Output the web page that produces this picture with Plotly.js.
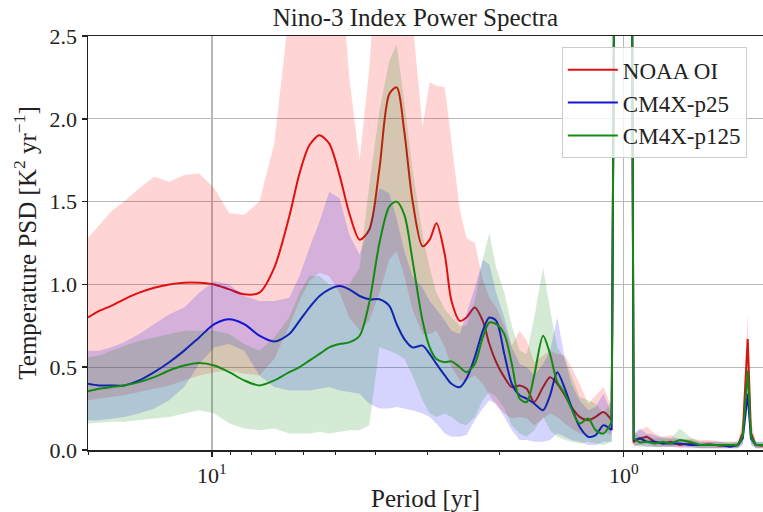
<!DOCTYPE html>
<html>
<head>
<meta charset="utf-8">
<script src="https://cdn.plot.ly/plotly-3.0.1.min.js"></script>
<style>html,body{margin:0;padding:0;background:#fff;}#chart{width:763px;height:512px;}</style>
</head>
<body>
<div id="chart"></div>
<script>
// Periods [yr] for the low-frequency part (left of the annual cycle)
const periods = [20.0,18.79,17.57,16.34,15.02,13.81,12.70,11.68,10.74,9.87,9.08,8.35,7.67,7.06,6.49,6.13,5.80,5.48,5.19,4.90,4.64,4.38,4.15,3.92,3.71,3.56,3.41,3.26,3.08,2.96,2.85,2.72,2.62,2.50,2.41,2.30,2.20,2.12,2.04,1.95,1.87,1.79,1.72,1.65,1.57,1.51,1.45,1.39,1.34,1.28,1.22,1.17,1.12,1.07];
// Off-scale annual-cycle peak (periods and values, shared by all series)
const annualPeak = [1.054, 1.044, 0.958, 0.952];
const annualPeakValues = [3, 30, 30, 3];
// Periods [yr] for the high-frequency part (right of the annual cycle)
const periodsRight = [0.946,0.914,0.879,0.841,0.804,0.769,0.731,0.691,0.653,0.618,0.584,0.552,0.528,0.514,0.5,0.491,0.478,0.459];

// NOAA OI
const noaaMean = [0.80,0.84,0.87,0.91,0.95,0.98,1.00,1.01,1.01,1.00,0.97,0.94,0.95,1.10,1.41,1.67,1.84,1.90,1.85,1.66,1.43,1.27,1.33,1.70,2.15,2.19,1.92,1.51,1.23,1.27,1.37,1.18,0.90,0.78,0.80,0.86,0.78,0.64,0.53,0.44,0.38,0.39,0.37,0.29,0.38,0.44,0.40,0.33,0.26,0.20,0.18,0.20,0.23,0.18];
const noaaLow  = [0.30,0.31,0.32,0.33,0.35,0.37,0.39,0.42,0.45,0.47,0.48,0.46,0.45,0.55,0.75,0.90,1.02,1.07,1.05,0.95,0.80,0.72,0.78,0.95,1.15,1.20,1.05,0.85,0.70,0.70,0.72,0.62,0.50,0.42,0.42,0.45,0.40,0.33,0.27,0.22,0.19,0.20,0.19,0.15,0.19,0.22,0.20,0.16,0.13,0.10,0.09,0.10,0.11,0.09];
const noaaHigh = [1.28,1.36,1.44,1.50,1.58,1.65,1.62,1.66,1.67,1.58,1.43,1.42,1.50,1.85,2.60,3.20,3.20,3.20,3.20,3.00,2.25,1.75,2.30,3.20,3.20,3.20,3.20,2.60,1.95,2.22,2.20,2.19,1.87,1.45,1.28,1.25,1.03,0.92,0.86,0.75,0.63,0.72,0.66,0.53,0.57,0.60,0.58,0.57,0.50,0.40,0.28,0.33,0.38,0.26];
const noaaMeanRight = [0.05,0.07,0.08,0.05,0.04,0.05,0.03,0.04,0.03,0.035,0.025,0.03,0.03,0.10,0.67,0.10,0.03,0.025];
const noaaLowRight  = [0.02,0.03,0.04,0.02,0.02,0.02,0.01,0.02,0.01,0.01,0.01,0.01,0.01,0.05,0.52,0.05,0.01,0.01];
const noaaHighRight = [0.09,0.12,0.14,0.10,0.08,0.09,0.06,0.07,0.06,0.06,0.05,0.05,0.05,0.18,0.82,0.18,0.05,0.04];

// CM4X-p25
const p25Mean = [0.40,0.39,0.39,0.39,0.42,0.47,0.53,0.60,0.68,0.76,0.79,0.76,0.69,0.655,0.70,0.78,0.86,0.93,0.97,0.99,0.97,0.93,0.91,0.91,0.87,0.76,0.67,0.62,0.63,0.58,0.52,0.45,0.40,0.38,0.43,0.56,0.72,0.80,0.78,0.58,0.40,0.33,0.31,0.28,0.24,0.33,0.47,0.37,0.26,0.14,0.08,0.09,0.15,0.12];
const p25Low  = [0.18,0.18,0.19,0.20,0.22,0.25,0.30,0.38,0.52,0.62,0.64,0.60,0.45,0.38,0.36,0.36,0.36,0.37,0.38,0.36,0.35,0.34,0.28,0.25,0.25,0.26,0.25,0.24,0.22,0.20,0.16,0.10,0.08,0.08,0.09,0.18,0.25,0.30,0.28,0.20,0.12,0.06,0.06,0.05,0.05,0.06,0.10,0.08,0.06,0.05,0.03,0.03,0.05,0.05];
const p25High = [0.60,0.60,0.62,0.65,0.70,0.76,0.82,0.86,0.95,1.02,1.00,0.93,0.90,0.90,0.92,1.05,1.22,1.38,1.56,1.52,1.30,1.18,1.35,1.58,1.55,1.40,1.20,1.05,0.98,0.90,0.85,0.78,0.72,0.70,0.82,0.98,1.15,1.12,0.95,0.80,0.62,0.52,0.50,0.45,0.52,0.60,0.80,0.55,0.40,0.30,0.24,0.26,0.34,0.22];
const p25MeanRight = [0.06,0.07,0.05,0.05,0.04,0.04,0.04,0.03,0.03,0.03,0.03,0.02,0.03,0.07,0.34,0.07,0.03,0.03];
const p25LowRight  = [0.03,0.03,0.02,0.02,0.02,0.02,0.02,0.01,0.01,0.01,0.01,0.01,0.01,0.03,0.25,0.03,0.01,0.01];
const p25HighRight = [0.10,0.13,0.10,0.09,0.07,0.07,0.07,0.06,0.05,0.05,0.05,0.04,0.05,0.12,0.45,0.12,0.05,0.05];

// CM4X-p125
const p125Mean = [0.355,0.37,0.38,0.39,0.41,0.44,0.48,0.51,0.525,0.51,0.47,0.42,0.39,0.42,0.47,0.50,0.54,0.58,0.62,0.64,0.65,0.69,0.89,1.25,1.47,1.50,1.42,1.15,0.78,0.62,0.55,0.53,0.535,0.50,0.47,0.52,0.68,0.77,0.76,0.70,0.52,0.31,0.29,0.45,0.69,0.58,0.41,0.34,0.25,0.16,0.19,0.12,0.10,0.17];
const p125Low  = [0.16,0.165,0.17,0.17,0.18,0.19,0.20,0.22,0.24,0.22,0.16,0.13,0.12,0.13,0.10,0.10,0.10,0.11,0.10,0.11,0.12,0.12,0.15,0.62,0.60,0.58,0.55,0.45,0.30,0.22,0.20,0.22,0.20,0.16,0.15,0.20,0.30,0.35,0.32,0.25,0.15,0.10,0.08,0.12,0.20,0.12,0.08,0.06,0.05,0.04,0.05,0.04,0.03,0.05];
const p125High = [0.56,0.57,0.60,0.63,0.66,0.68,0.70,0.72,0.72,0.72,0.70,0.64,0.60,0.68,0.80,0.95,1.05,1.05,1.00,0.98,1.00,1.10,1.60,2.05,2.35,2.45,2.10,1.70,1.30,1.10,0.95,0.85,0.80,0.75,0.75,0.90,1.15,1.31,1.10,0.95,0.75,0.60,0.58,0.80,1.10,0.85,0.62,0.55,0.45,0.32,0.30,0.28,0.22,0.30];
const p125MeanRight = [0.07,0.045,0.05,0.04,0.05,0.04,0.06,0.05,0.03,0.03,0.03,0.03,0.03,0.08,0.48,0.08,0.03,0.03];
const p125LowRight  = [0.03,0.02,0.02,0.02,0.02,0.02,0.03,0.02,0.01,0.01,0.01,0.01,0.01,0.04,0.36,0.04,0.01,0.01];
const p125HighRight = [0.11,0.08,0.09,0.07,0.08,0.07,0.13,0.08,0.05,0.05,0.05,0.05,0.05,0.14,0.62,0.14,0.05,0.05];

const seriesNames = ['NOAA OI', 'CM4X-p25', 'CM4X-p125'];
const lineColors = ['#e01010', '#1414d2', '#138a13'];
const fillColors = ['rgba(255,0,0,0.17)', 'rgba(0,0,255,0.17)', 'rgba(0,128,0,0.17)'];

const yTicks = [0, 0.5, 1.0, 1.5, 2.0, 2.5];
const xMajorTicks = [10, 1];
const xMajorLabels = ['10<sup>1</sup>', '10<sup>0</sup>'];
const xMinorTicks = [20, 9, 8, 7, 6, 5, 4, 3, 2, 0.9, 0.8, 0.7, 0.6, 0.5];

const allData = [
  [noaaMean, noaaLow, noaaHigh, noaaMeanRight, noaaLowRight, noaaHighRight],
  [p25Mean, p25Low, p25High, p25MeanRight, p25LowRight, p25HighRight],
  [p125Mean, p125Low, p125High, p125MeanRight, p125LowRight, p125HighRight]
];

const traces = [];
const xAll = periods.concat(annualPeak, periodsRight);
allData.forEach(function (d, i) {
  const upper = d[2].concat(annualPeakValues, d[5]);
  const lower = d[1].concat(annualPeakValues, d[4]);
  traces.push({
    x: xAll.concat(xAll.slice().reverse()),
    y: upper.concat(lower.slice().reverse()),
    type: 'scatter', mode: 'lines', fill: 'toself',
    fillcolor: fillColors[i], line: {width: 0, color: fillColors[i]},
    hoverinfo: 'skip', showlegend: false
  });
  traces.push({
    x: periods, y: d[0], type: 'scatter', mode: 'lines', name: seriesNames[i],
    line: {color: lineColors[i], width: 2, shape: 'spline', smoothing: 0.8}
  });
  const lastP = periods[periods.length - 1];
  const lastV = d[0][d[0].length - 1];
  traces.push({
    x: [lastP].concat(annualPeak, periodsRight),
    y: [lastV].concat(annualPeakValues, d[3]),
    type: 'scatter', mode: 'lines', name: seriesNames[i],
    line: {color: lineColors[i], width: 2},
    showlegend: false
  });
});

const fontFam = '"Liberation Serif", "Times New Roman", serif';
const layout = {
  width: 763, height: 512,
  margin: {l: 88, r: 0, t: 36, b: 62},
  paper_bgcolor: '#ffffff', plot_bgcolor: '#ffffff',
  font: {family: fontFam, size: 22, color: '#222222'},
  title: {text: 'Nino-3 Index Power Spectra', x: 0.485, xref: 'paper', xanchor: 'center',
          y: 0.966, yref: 'container', yanchor: 'middle', font: {family: fontFam, size: 25, color: '#222222'}},
  xaxis: {
    type: 'log', range: [Math.log10(20), Math.log10(0.459)],
    tickmode: 'array', tickvals: xMajorTicks, ticktext: xMajorLabels,
    ticks: 'outside', ticklen: 5, tickwidth: 1.5, tickcolor: '#222',
    showline: true, linecolor: '#222', linewidth: 1.5, mirror: true,
    showgrid: true, gridcolor: '#b8b8b8', gridwidth: 1.3, zeroline: false,
    tickfont: {family: fontFam, size: 22},
    minor: {tickvals: xMinorTicks, ticks: 'outside', ticklen: 3, tickwidth: 1, tickcolor: '#222', showgrid: false},
    title: {text: 'Period [yr]', standoff: 6, font: {family: fontFam, size: 25}}
  },
  yaxis: {
    range: [0, 2.5], tickmode: 'array', tickvals: yTicks, tickformat: '.1f',
    ticks: 'outside', ticklen: 5, tickwidth: 1.5, tickcolor: '#222',
    showline: true, linecolor: '#222', linewidth: 1.5,
    showgrid: true, gridcolor: '#b8b8b8', gridwidth: 1.3, zeroline: false,
    tickfont: {family: fontFam, size: 22},
    title: {text: 'Temperature PSD [K<sup>2</sup> yr<sup>\u22121</sup>]', standoff: 6, font: {family: fontFam, size: 25}}
  },
  legend: {
    x: 0.702, y: 0.973, xanchor: 'left', yanchor: 'top',
    bgcolor: 'rgba(255,255,255,0.8)', bordercolor: '#cccccc', borderwidth: 1,
    tracegroupgap: 0, itemwidth: 50,
    font: {family: fontFam, size: 23, color: '#222'}
  },
  showlegend: true
};

Plotly.newPlot('chart', traces, layout, {staticPlot: true, displayModeBar: false});
</script>
</body>
</html>
